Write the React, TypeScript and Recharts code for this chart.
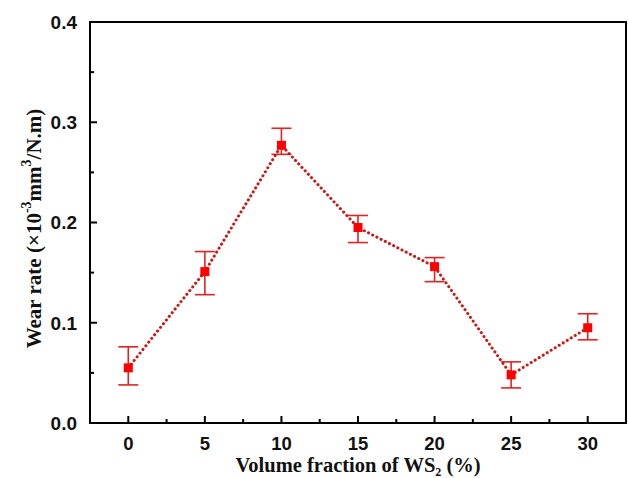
import { LineChart, Line, XAxis, YAxis, ErrorBar, ReferenceArea, Label } from 'recharts';

// WS2 content (vol.%) and measured wear rate with lower / upper error
const volumeFraction = [0, 5, 10, 15, 20, 25, 30];
const wearRate = [0.055, 0.151, 0.277, 0.195, 0.156, 0.048, 0.095];
const errLow = [0.017, 0.023, 0.009, 0.015, 0.015, 0.013, 0.012];
const errHigh = [0.021, 0.02, 0.017, 0.012, 0.009, 0.013, 0.014];

// major + minor tick positions
const xTicks = [0, 2.5, 5, 7.5, 10, 12.5, 15, 17.5, 20, 22.5, 25, 27.5, 30];
const yTicks = [0, 0.05, 0.1, 0.15, 0.2, 0.25, 0.3, 0.35, 0.4];

const data = volumeFraction.map((v, i) => ({
  v,
  wear: wearRate[i],
  err: [errLow[i], errHigh[i]],
}));

const TICK_FONT = '"Liberation Sans", Arial, sans-serif';
const TITLE_FONT = '"Liberation Serif", "Times New Roman", serif';
const Y_GAP = 13;
const X_GAP = 14;

function YTick(props: any) {
  const { x, y, payload } = props;
  const val = payload.value as number;
  const major = Math.abs(val * 10 - Math.round(val * 10)) < 1e-6;
  const ax = x + Y_GAP;
  return (
    <g>
      <line x1={ax} x2={ax + (major ? 7 : 4)} y1={y} y2={y} stroke="#000" strokeWidth={2} />
      {major && (
        <text x={x} y={y} dy="0.36em" textAnchor="end" fontFamily={TICK_FONT} fontWeight="bold" fontSize={19} fill="#111">
          {val.toFixed(1)}
        </text>
      )}
    </g>
  );
}

function XTick(props: any) {
  const { x, y, payload } = props;
  const val = payload.value as number;
  const major = val % 5 === 0;
  const ay = y - X_GAP;
  return (
    <g>
      <line x1={x} x2={x} y1={ay} y2={ay - (major ? 7 : 4)} stroke="#000" strokeWidth={2} />
      {major && (
        <text x={x} y={y} dy="0.72em" textAnchor="middle" fontFamily={TICK_FONT} fontWeight="bold" fontSize={18.5} fill="#111">
          {val}
        </text>
      )}
    </g>
  );
}

function Square(props: any) {
  const { cx, cy, index } = props;
  if (cx == null || cy == null) return <g key={`sq-${index}`} />;
  return <rect key={`sq-${index}`} x={cx - 4.5} y={cy - 4.5} width={9} height={9} fill="#ff0000" />;
}

export default function App() {
  return (
    <div style={{ position: 'absolute', left: 0, top: 0, background: '#fff' }}>
      <LineChart width={628} height={478} data={data} margin={{ top: 22, right: 2, bottom: 0, left: 0 }}>
        <XAxis
          dataKey="v"
          type="number"
          domain={[-2.5, 32.5]}
          ticks={xTicks}
          interval={0}
          allowDataOverflow
          height={55}
          axisLine={false}
          tickLine={false}
          tickSize={0}
          tickMargin={X_GAP}
          tick={<XTick />}
        >
          <Label
            content={(p: any) => {
              const vb = p.viewBox;
              return (
                <text x={vb.x + vb.width / 2} y={vb.y + 49} textAnchor="middle" fontFamily={TITLE_FONT} fontWeight="bold" fontSize={20.5} fill="#111">
                  Volume fraction of WS
                  <tspan dy={4} fontSize={12}>2</tspan>
                  <tspan dy={-4}> (%)</tspan>
                </text>
              );
            }}
          />
        </XAxis>
        <YAxis
          type="number"
          domain={[0, 0.4]}
          ticks={yTicks}
          interval={0}
          allowDataOverflow
          width={90}
          axisLine={false}
          tickLine={false}
          tickSize={0}
          tickMargin={Y_GAP}
          tick={<YTick />}
        >
          <Label
            content={(p: any) => {
              const vb = p.viewBox;
              const cx = 34;
              const cy = vb.y + vb.height / 2 + 6;
              return (
                <text
                  x={cx}
                  y={cy}
                  transform={`rotate(-90 ${cx} ${cy})`}
                  textAnchor="middle"
                  dominantBaseline="central"
                  fontFamily={TITLE_FONT}
                  fontWeight="bold"
                  fontSize={21}
                  fill="#111"
                >
                  Wear rate (×10
                  <tspan dy={-8} fontSize={14}>-3</tspan>
                  <tspan dy={8}>mm</tspan>
                  <tspan dy={-8} fontSize={14}>3</tspan>
                  <tspan dy={8}>/N.m)</tspan>
                </text>
              );
            }}
          />
        </YAxis>
        <ReferenceArea x1={-2.5} x2={32.5} y1={0} y2={0.4} fill="none" stroke="#000" strokeWidth={2} ifOverflow="visible" />
        <Line
          dataKey="wear"
          type="linear"
          stroke="#c81818"
          strokeWidth={3}
          strokeDasharray="0.1 4.6"
          strokeLinecap="round"
          dot={Square}
          activeDot={false}
          isAnimationActive={false}
        >
          <ErrorBar dataKey="err" direction="y" width={10} stroke="#e02424" strokeWidth={1.6} />
        </Line>
      </LineChart>
    </div>
  );
}
